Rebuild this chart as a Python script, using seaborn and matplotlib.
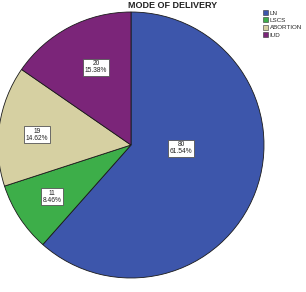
import matplotlib
matplotlib.use("Agg")
import matplotlib.pyplot as plt
import seaborn as sns
import numpy as np
from matplotlib.patches import Patch

sns.set_theme(style="white")
plt.rcParams['font.family'] = ['Liberation Sans', 'DejaVu Sans']

categories = ["LN", "LSCS", "ABORTION", "IUD"]
counts = [80, 11, 19, 20]
percents = ["61.54%", "8.46%", "14.62%", "15.38%"]
title = "MODE OF DELIVERY"

colors = ["#3D56AB", "#3DAE49", "#D6D0A2", "#7B2579"]
label_dist = [0.38, 0.71, 0.71, 0.64]
label_angle_shift = [17.0, 0.0, 2.0, -3.5]

fig = plt.figure(figsize=(3.06, 2.92), dpi=100)
ax = fig.add_axes([-2/306, 14/292, 266/306, 266/292])
wedges, _ = ax.pie(counts, colors=colors, startangle=90, counterclock=False,
                   wedgeprops=dict(edgecolor="#1a1a1a", linewidth=0.6), radius=1)
ax.set_xlim(-1, 1)
ax.set_ylim(-1, 1)
ax.set_aspect("auto")

for w, n, p, d, s in zip(wedges, counts, percents, label_dist, label_angle_shift):
    ang = np.deg2rad((w.theta1 + w.theta2) / 2 + s)
    ax.text(d * np.cos(ang), d * np.sin(ang), f"{n}\n{p}", ha="center", va="center",
            fontsize=4.8, linespacing=0.95, color="#222222",
            bbox=dict(boxstyle="square,pad=0.25", fc="white", ec="#555555", lw=0.6))

fig.text(173/306, 1 - 6/292, title, ha="center", va="center", fontsize=6.5,
         fontweight="bold", color="#222222")

handles = [Patch(facecolor=c, edgecolor="#333333", linewidth=0.4, label=l)
           for c, l in zip(colors, categories)]
fig.legend(handles=handles, loc="upper left", bbox_to_anchor=(263/306, 1 - 10/292),
           frameon=False, fontsize=4.5, handlelength=0.8, handleheight=0.8,
           handletextpad=0.25, labelspacing=0.3, borderpad=0.0, borderaxespad=0)

fig.savefig("out.png", dpi=100)
